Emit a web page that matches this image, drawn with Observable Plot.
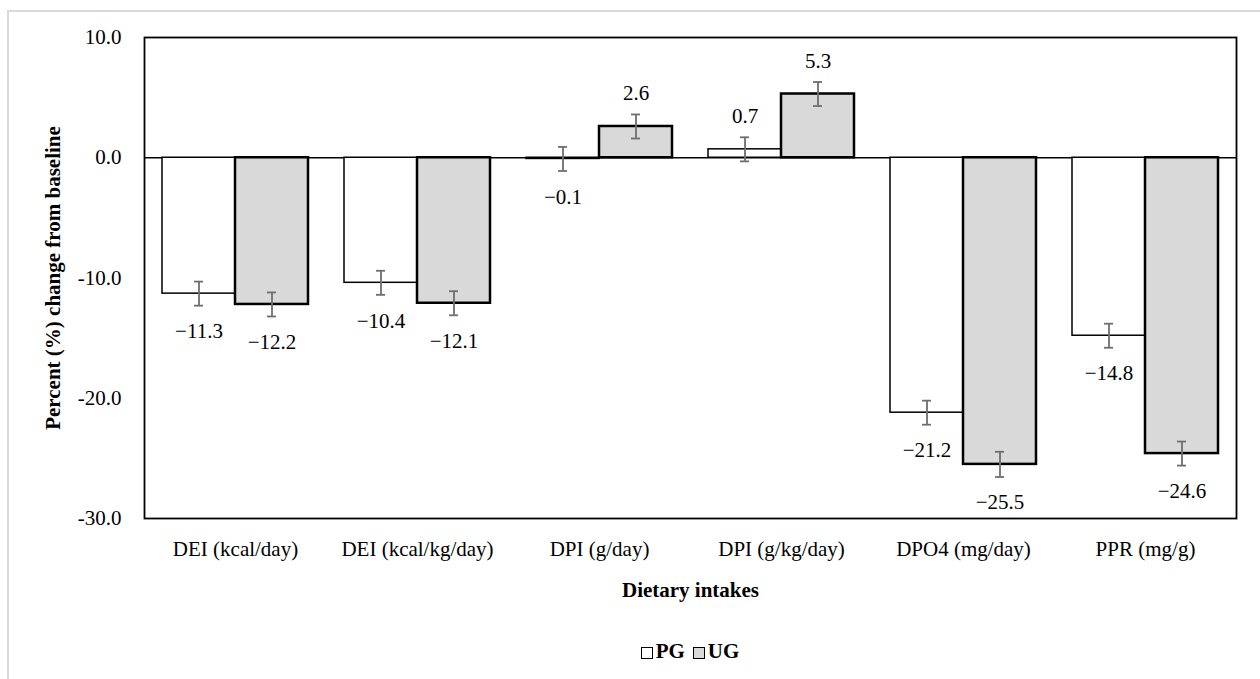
<!DOCTYPE html>
<html>
<head>
<meta charset="utf-8">
<script src="https://cdn.jsdelivr.net/npm/d3@7"></script>
<script src="https://cdn.jsdelivr.net/npm/@observablehq/plot@0.6"></script>
<style>
  html, body { margin: 0; padding: 0; background: #fff; overflow: hidden; }
  #outer { position: absolute; left: 7px; top: 10px; width: 1400px; height: 800px; border: 2px solid #d9d9d9; }
  #chart { position: absolute; left: 0; top: 0; width: 1260px; }
  svg [aria-label="y-axis label"] text, svg [aria-label="fx-axis label"] text,
  svg [aria-label="y-axis label"], svg [aria-label="fx-axis label"] { font-weight: bold; }
  #legend { margin-left: 142px; margin-right: 22px; text-align: center; height: 30px; line-height: 30px;
    font-family: "Palatino Linotype", "Book Antiqua", Palatino, "Liberation Serif", serif; font-size: 21px; font-weight: bold; color: #000; }
  .sw { display: inline-block; width: 12px; height: 12px; border: 1.5px solid #000; vertical-align: -1px; margin-right: 3px; box-sizing: border-box; }
  .item { margin: 0 4px; }
</style>
</head>
<body>
<div id="outer"></div>
<div id="chart"></div>
<script>
const categories = ["DEI (kcal/day)", "DEI (kcal/kg/day)", "DPI (g/day)", "DPI (g/kg/day)", "DPO4 (mg/day)", "PPR (mg/g)"];
const groups = ["PG", "UG"];
const pgValues = [-11.3, -10.4, -0.1, 0.7, -21.2, -14.8];
const ugValues = [-12.2, -12.1, 2.6, 5.3, -25.5, -24.6];
const pgErrors = [1.0, 1.0, 1.0, 1.0, 1.0, 1.0];
const ugErrors = [1.0, 1.0, 1.0, 1.0, 1.05, 1.0];
const yTicks = [-30, -20, -10, 0, 10];
const groupFills = ["#ffffff", "#d9d9d9"];

const data = categories.flatMap((c, i) => [
  {cat: c, group: "PG", value: pgValues[i], err: pgErrors[i]},
  {cat: c, group: "UG", value: ugValues[i], err: ugErrors[i]}
]);
const fmt = v => (v < 0 ? "\u2212" : "") + Math.abs(v).toFixed(1);
const FONT = '"Palatino Linotype", "Book Antiqua", Palatino, "Liberation Serif", serif';

const plot = Plot.plot({
  width: 1260,
  height: 636,
  marginTop: 37,
  marginBottom: 118,
  marginLeft: 141,
  marginRight: 22,
  style: {fontFamily: FONT, fontSize: "21px", color: "#000", background: "transparent"},
  fx: {domain: categories, paddingInner: 0, paddingOuter: 0, axis: "bottom", tickSize: 0, tickPadding: 23,
       label: "Dietary intakes", labelAnchor: "center", labelOffset: 78, labelArrow: "none"},
  x: {domain: groups, paddingInner: 0, paddingOuter: 0.24, axis: null},
  y: {domain: [-30, 10], ticks: yTicks, tickFormat: d => d.toFixed(1), tickSize: 0, tickPadding: 23,
      label: "Percent (%) change from baseline", labelAnchor: "center", labelOffset: 99, labelArrow: "none"},
  color: {domain: groups, range: groupFills},
  marks: [
    Plot.ruleY([0], {stroke: "#000", strokeWidth: 1.5}),
    Plot.barY(data.filter(d => d.group === "PG"), {fx: "cat", x: "group", y: "value", fill: "group", stroke: "#000", strokeWidth: 1.5}),
    Plot.barY(data.filter(d => d.group === "UG"), {fx: "cat", x: "group", y: "value", fill: "group", stroke: "#000", strokeWidth: 2.5}),
    Plot.ruleX(data, {fx: "cat", x: "group", y1: d => d.value - d.err, y2: d => d.value + d.err, stroke: "#6e6e6e", strokeWidth: 1.8}),
    Plot.tickY(data, {fx: "cat", x: "group", y: d => d.value - d.err, stroke: "#6e6e6e", strokeWidth: 1.8, insetLeft: 32, insetRight: 32}),
    Plot.tickY(data, {fx: "cat", x: "group", y: d => d.value + d.err, stroke: "#6e6e6e", strokeWidth: 1.8, insetLeft: 32, insetRight: 32}),
    Plot.text(data.filter(d => d.value < 0), {fx: "cat", x: "group", y: "value", text: d => fmt(d.value), dy: 38, fill: "#000"}),
    Plot.text(data.filter(d => d.value >= 0), {fx: "cat", x: "group", y: "value", text: d => fmt(d.value), dy: -33, fill: "#000"}),
    Plot.frame({facet: "super", stroke: "#000", strokeWidth: 1.8})
  ]
});
const chart = document.getElementById("chart");
chart.appendChild(plot);
const legend = document.createElement("div");
legend.id = "legend";
legend.innerHTML = groups.map((g, i) => `<span class="item"><span class="sw" style="background:${groupFills[i]}"></span>${g}</span>`).join("");
chart.appendChild(legend);
</script>
</body>
</html>
